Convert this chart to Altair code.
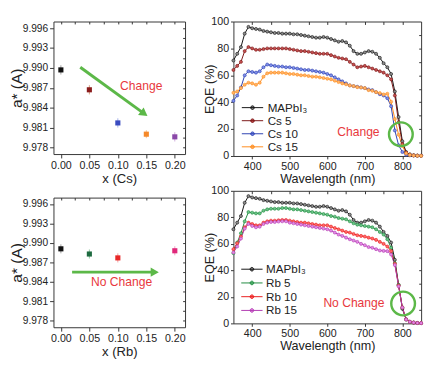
import math
import altair as alt
import pandas as pd

FONT = "Liberation Sans"
GREEN = "#5cb848"
RED = "#e8383d"
FRAME = "#333333"

# ---------------- lattice parameter data ----------------
x_cs = [0.00, 0.05, 0.10, 0.15, 0.20]
a_cs = [9.9897, 9.9867, 9.9817, 9.9800, 9.9796]
err_cs = [0.0007, 0.0007, 0.0007, 0.0006, 0.0007]

x_rb = [0.00, 0.05, 0.10, 0.20]
a_rb = [9.9891, 9.9883, 9.9877, 9.9888]
err_rb = [0.0007, 0.0007, 0.0007, 0.0007]

cs_dark = ["#111111", "#8b1c1c", "#3a4cc0", "#f5892a", "#8a48a8"]
cs_light = ["#a0a0a0", "#d8a080", "#a8b4ea", "#f8c494", "#cfaadc"]
rb_dark = ["#111111", "#1e6b40", "#e82828", "#e0287a"]
rb_light = ["#a0a0a0", "#90c8a0", "#f4a0a0", "#f0a0c4"]

# annotations (data units)
arrow_cs = {"x0": [0.034], "y0": [9.9901], "x1": [0.1462], "y1": [9.9831]}
arrow_rb = {"x0": [0.0197], "y0": [9.9855], "x1": [0.1648], "y1": [9.9855]}
label_cs = {"x": [0.141], "y": [9.9873], "t": ["Change"]}
label_rb = {"x": [0.1066], "y": [9.9839], "t": ["No Change"]}

# ---------------- EQE data ----------------
wl = [350, 360, 370, 380, 390, 400, 410, 420, 430, 440, 450, 460, 470, 480, 490,
      500, 510, 520, 530, 540, 550, 560, 570, 580, 590, 600, 610, 620, 630, 640,
      650, 660, 670, 680, 690, 700, 710, 720, 730, 740, 750, 760, 770, 780, 790,
      800, 810, 820, 830, 840, 850]

eqe_mapbi3 = [71, 76, 81, 91, 96, 95, 94.5, 94, 93, 92.5, 92, 91.5, 91.5, 91, 91,
              91, 90.5, 90.5, 90, 89.5, 89, 88.5, 88, 88, 88.5, 88, 87, 86, 85, 85.5,
              84.5, 82, 78, 76, 76, 77, 78, 77.5, 76, 73, 69, 66, 61, 48, 29,
              11, 3, 1.2, 0.6, 0.3, 0.2]
eqe_cs5 = [64, 67, 70, 78, 81, 80, 79, 79, 79.5, 80, 80, 80, 80, 80, 80,
           79.5, 79, 78.5, 78, 78, 77.5, 77, 76.5, 76, 76, 76, 75, 74, 73, 72.5,
           72, 70, 68, 66, 66.5, 67, 66, 65, 64, 63, 62, 60, 57, 45, 25,
           9, 2.5, 1, 0.5, 0.3, 0.2]
eqe_cs10 = [41, 45, 51, 60, 63, 62.5, 62, 63, 66, 68, 67.5, 67, 66.5, 66.5, 66,
            66, 65.5, 65, 64.5, 64, 64, 63.5, 63, 62.5, 62, 61, 60, 58.5, 57, 55.5,
            54, 52.5, 52, 51.5, 51, 50.5, 49.5, 49, 47.5, 46, 45, 43, 37, 19, 8,
            3, 1, 0.5, 0.3, 0.2, 0.1]
eqe_cs15 = [47, 48, 50.5, 53, 54.5, 54, 53, 54.5, 59, 61.5, 62, 62, 62, 62, 61.5,
            61, 61, 60.5, 60, 60, 59.5, 59, 59, 58.5, 58, 57.5, 57, 56, 55, 54,
            53.3, 52.5, 52, 51.2, 51, 50.5, 49, 48.5, 47.5, 46.8, 45.8, 46.3, 40.4, 27.5, 15.8,
            7.5, 2, 0.8, 0.4, 0.2, 0.1]
eqe_rb5 = [53, 61, 68, 77, 84, 83.5, 83, 83, 85, 86, 86.5, 86.5, 86.5, 87, 87,
           86.5, 86, 86, 85.5, 85, 84.5, 84, 83.5, 83, 82.5, 82, 81, 80.5, 79.5, 79,
           78.5, 77, 75.5, 74.5, 74, 73.5, 73, 72.5, 71, 69, 67, 63.5, 57, 45.5, 29,
           12, 3, 1.2, 0.6, 0.3, 0.2]
eqe_rb10 = [56, 60.5, 65.5, 72.5, 76, 75, 74, 74, 76, 77, 77.5, 77.5, 77.8, 78, 78,
            77.5, 77, 76.5, 76, 76, 75.5, 75, 74.5, 74, 74, 74, 73, 72, 71, 70,
            69, 68.5, 67.5, 66.5, 66, 65.5, 64.7, 64, 63, 61.5, 60, 58, 54.5, 45, 28.5,
            12, 3, 1.2, 0.6, 0.3, 0.2]
eqe_rb15 = [53.5, 58, 64, 71.5, 75, 73.5, 72.5, 73, 75, 76, 76.5, 76.5, 76.8, 77, 77,
            76, 75.5, 75, 74.5, 74, 73.5, 73, 72.5, 72, 71.5, 71, 70, 68.5, 67, 66,
            64.7, 63.5, 62.5, 61.5, 60, 59, 57.6, 57, 56, 55, 54.7, 54.5, 52, 44, 28,
            12, 3, 1.2, 0.6, 0.3, 0.2]

names_cs = ["MAPbI\u2083", "Cs 5", "Cs 10", "Cs 15"]
names_rb = ["MAPbI\u2083", "Rb 5", "Rb 10", "Rb 15"]
eqe_cs_dark = ["#111111", "#7a1414", "#2b3fb0", "#ff8a1a"]
eqe_cs_light = ["#8c8c8c", "#c45050", "#8090ea", "#ffb468"]
eqe_rb_dark = ["#111111", "#1e8a3e", "#e81c1c", "#b03ab0"]
eqe_rb_light = ["#8c8c8c", "#6cc488", "#ff6a6a", "#e48ae4"]

label_eqe_cs = {"x": [683], "y": [18], "t": ["Change"]}
circle_eqe_cs = {"x": [796], "y": [16.2]}
label_eqe_rb = {"x": [671], "y": [15], "t": ["No Change"]}
circle_eqe_rb = {"x": [802], "y": [15]}

LEG_PATH = "M-3,0L3,0M0.5,0A0.5,0.5,0,1,1,-0.5,0A0.5,0.5,0,1,1,0.5,0Z"


def lattice_panel(xs, ys, errs, dark, light, xtitle, arrow, label, W, H, top_pad):
    keys = [f"{v:.2f}" for v in xs]
    df = pd.DataFrame({"x": xs, "a": ys,
                       "lo": [y - e for y, e in zip(ys, errs)],
                       "hi": [y + e for y, e in zip(ys, errs)],
                       "k": keys})
    xdom = [-0.013, 0.218]
    ydom = [9.977, 9.997]
    xsc = alt.Scale(domain=xdom, nice=False, zero=False)
    ysc = alt.Scale(domain=ydom, nice=False, zero=False)
    xax = alt.Axis(values=[0, 0.05, 0.1, 0.15, 0.2], format=".2f", title=xtitle,
                   titleFontSize=13.5, labelFontSize=11, tickSize=4, labelPadding=2,
                   titlePadding=1)
    yax = alt.Axis(values=[9.978, 9.981, 9.984, 9.987, 9.990, 9.993, 9.996],
                   format=".3f", title="a* (A)", titleFontSize=16, labelFontSize=10.5,
                   tickSize=4, labelPadding=2, titlePadding=-2)

    def X(f):
        return alt.X(f, type="quantitative", scale=xsc, axis=xax)

    def Y(f):
        return alt.Y(f, type="quantitative", scale=ysc, axis=yax)

    base = alt.Chart(df)
    err = base.mark_rule(strokeWidth=1).encode(
        x=X("x"), y=Y("lo"), y2="hi",
        stroke=alt.Stroke("k:N", scale=alt.Scale(domain=keys, range=light), legend=None))
    pts = base.mark_square(size=28, opacity=1, filled=True).encode(
        x=X("x"), y=Y("a"),
        fill=alt.Fill("k:N", scale=alt.Scale(domain=keys, range=dark), legend=None))

    adf = pd.DataFrame(arrow)
    dx = (arrow["x1"][0] - arrow["x0"][0]) / (xdom[1] - xdom[0]) * W
    dy = (arrow["y0"][0] - arrow["y1"][0]) / (ydom[1] - ydom[0]) * H
    ang = math.degrees(math.atan2(dy, dx)) % 360
    shaft = alt.Chart(adf).mark_rule(strokeWidth=3, color=GREEN).encode(
        x=X("x0"), y=Y("y0"), x2="x1", y2="y1")
    head = alt.Chart(adf).mark_point(shape="triangle-right", filled=True, size=95,
                                     angle=ang, color=GREEN, opacity=1).encode(
        x=X("x1"), y=Y("y1"))
    txt = alt.Chart(pd.DataFrame(label)).mark_text(
        color=RED, fontSize=12.5, font=FONT).encode(x=X("x"), y=Y("y"), text="t:N")

    layers = [err, pts, shaft, head, txt]
    if top_pad:
        # invisible spacer so this column's top aligns with the EQE column
        spacer = alt.Chart(pd.DataFrame({"x": [0.1], "y": [ydom[1]], "t": ["0"]})).mark_text(
            fontSize=6, opacity=0, baseline="bottom", dy=-1).encode(
            x=X("x"), y=Y("y"), text="t:N")
        layers.append(spacer)
    main = alt.layer(*layers)
    ghost = base.mark_point(opacity=0).encode(
        x=alt.X("x:Q", scale=xsc, axis=alt.Axis(
            orient="bottom", offset=-H, labels=False, title=None, domain=False,
            tickSize=2.5, values=[0, 0.025, 0.05, 0.075, 0.1, 0.125, 0.15, 0.175, 0.2])),
        y=alt.Y("a:Q", scale=ysc, axis=alt.Axis(
            orient="left", offset=-W, labels=False, title=None, domain=False,
            tickSize=2.5, values=[9.978 + 0.0015 * i for i in range(13)])))
    return alt.layer(main, ghost).resolve_axis(x="independent", y="independent").properties(
        width=W, height=H)


def eqe_panel(names, series, dark, light, leg_x, leg_y, row_pad, label_off,
              label, circle, W, H):
    rows = []
    for n, vals in zip(names, series):
        for w, v in zip(wl, vals):
            rows.append({"wl": w, "eqe": v, "s": n})
    df = pd.DataFrame(rows)
    xsc = alt.Scale(domain=[350, 850], nice=False, zero=False)
    ysc = alt.Scale(domain=[0, 100], nice=False)
    xax = alt.Axis(values=[400, 500, 600, 700, 800], title="Wavelength (nm)",
                   titleFontSize=13, labelFontSize=11, tickSize=3, labelPadding=2,
                   titlePadding=1)
    yax = alt.Axis(values=[0, 20, 40, 60, 80, 100], title="EQE (%)", titleFontSize=13,
                   labelFontSize=11, tickSize=3, labelPadding=2, titlePadding=-6)

    def X(f):
        return alt.X(f, type="quantitative", scale=xsc, axis=xax)

    def Y(f):
        return alt.Y(f, type="quantitative", scale=ysc, axis=yax)

    stroke_scale = alt.Scale(domain=names, range=dark)
    legend = alt.Legend(orient="none", legendX=leg_x, legendY=leg_y, title=None,
                        symbolType=LEG_PATH, symbolSize=54, symbolStrokeWidth=1,
                        labelFontSize=12, labelFont=FONT, labelOffset=label_off,
                        rowPadding=row_pad, padding=0, labelLimit=0,
                        labelColor="#222222")
    base = alt.Chart(df)
    line = base.mark_line(strokeWidth=1).encode(
        x=X("wl"), y=Y("eqe"),
        stroke=alt.Stroke("s:N", scale=stroke_scale, legend=legend))
    pts = base.mark_circle(size=10, strokeWidth=0.6, opacity=1).encode(
        x=X("wl"), y=Y("eqe"),
        stroke=alt.Stroke("s:N", scale=stroke_scale),
        fill=alt.Fill("s:N", scale=alt.Scale(domain=names, range=light), legend=None))
    txt = alt.Chart(pd.DataFrame(label)).mark_text(
        color=RED, fontSize=12.5, font=FONT).encode(x=X("x"), y=Y("y"), text="t:N")
    circ = alt.Chart(pd.DataFrame(circle)).mark_point(
        shape="circle", size=600, strokeWidth=2.5, color=GREEN, filled=False,
        opacity=1).encode(x=X("x"), y=Y("y"))
    main = alt.layer(line, pts, txt, circ)
    ghost = base.mark_point(opacity=0).encode(
        x=alt.X("wl:Q", scale=xsc, axis=alt.Axis(
            orient="bottom", offset=-H, labels=False, title=None, domain=False,
            tickSize=3, values=list(range(400, 850, 50)))),
        y=alt.Y("eqe:Q", scale=ysc, axis=alt.Axis(
            orient="left", offset=-W, labels=False, title=None, domain=False,
            tickSize=2.5, values=list(range(10, 100, 10)))))
    return alt.layer(main, ghost).resolve_axis(x="independent", y="independent").properties(
        width=W, height=H)


WL, WR = 136, 194
tl = lattice_panel(x_cs, a_cs, err_cs, cs_dark, cs_light, "x (Cs)", arrow_cs, label_cs,
                   WL, 137, True)
bl = lattice_panel(x_rb, a_rb, err_rb, rb_dark, rb_light, "x (Rb)", arrow_rb, label_rb,
                   WL, 134, False)
tr = eqe_panel(names_cs, [eqe_mapbi3, eqe_cs5, eqe_cs10, eqe_cs15], eqe_cs_dark, eqe_cs_light,
               13.7, 83, 1.5, 9.7, label_eqe_cs, circle_eqe_cs, WR, 139)
br = eqe_panel(names_rb, [eqe_mapbi3, eqe_rb5, eqe_rb10, eqe_rb15], eqe_rb_dark, eqe_rb_light,
               13.1, 75, 2.2, 8.6, label_eqe_rb, circle_eqe_rb, WR, 137)

indep = dict(stroke="independent", fill="independent")
left = alt.vconcat(tl, bl, spacing=45, bounds="flush").resolve_scale(**indep)
right = alt.vconcat(tr, br, spacing=36, bounds="flush").resolve_scale(**indep)

chart = alt.hconcat(left, right, spacing=18).resolve_scale(**indep).properties(
    padding=0
).configure_axis(
    labelFont=FONT, titleFont=FONT, labelColor="#222222", titleColor="#222222",
    tickColor=FRAME, domain=False, grid=False, titleFontWeight="normal"
).configure_view(stroke=FRAME, strokeWidth=1)

chart.save("out.html", embed_options={"renderer": "svg", "actions": False})
